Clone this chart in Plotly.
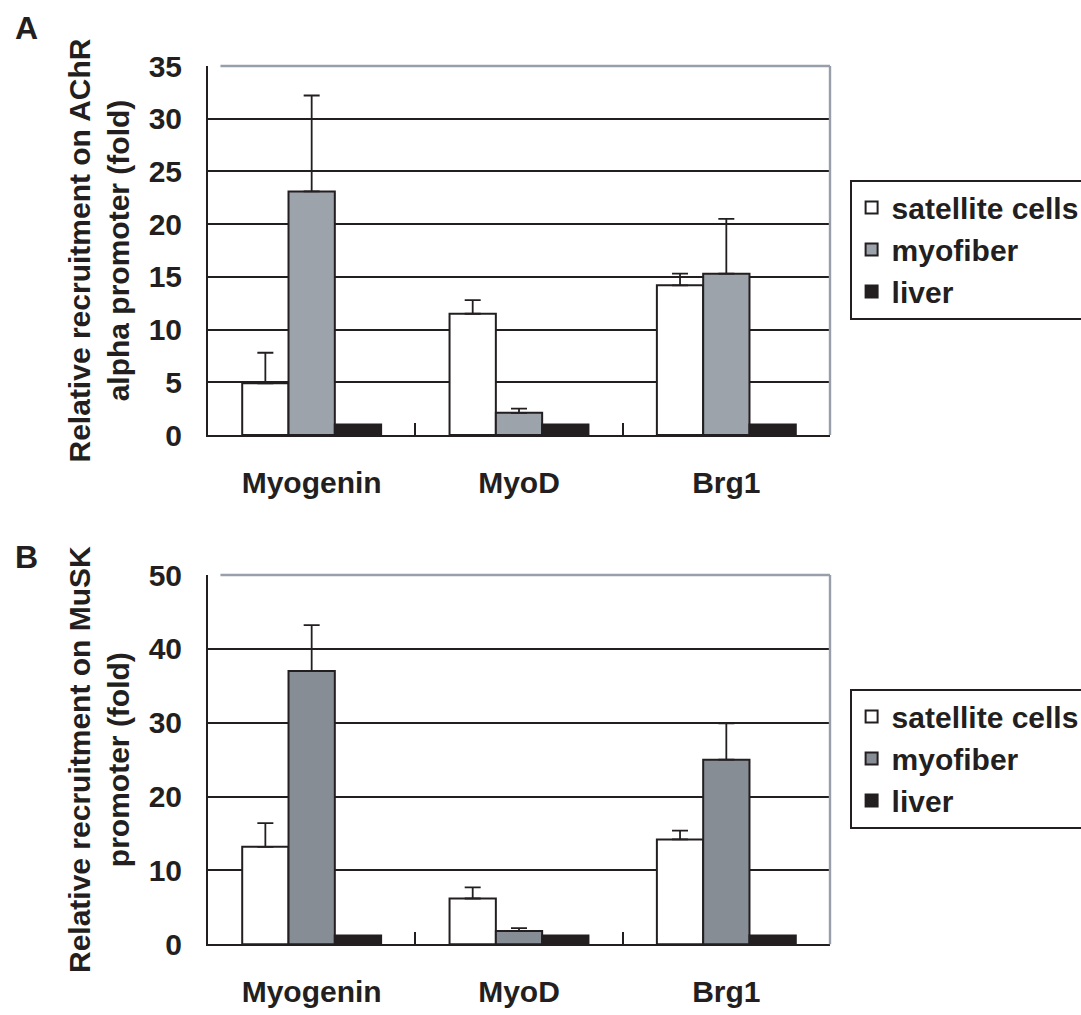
import plotly.graph_objects as go

# Transcription factor / chromatin remodeller targets
categories = ["Myogenin", "MyoD", "Brg1"]
series_names = ["satellite cells", "myofiber", "liver"]

# Panel A: recruitment on the AChR alpha promoter (fold)
achr_satellite = [4.9, 11.5, 14.2]
achr_satellite_err = [2.9, 1.3, 1.1]
achr_myofiber = [23.1, 2.1, 15.3]
achr_myofiber_err = [9.1, 0.4, 5.2]
achr_liver = [1.0, 1.0, 1.0]

# Panel B: recruitment on the MuSK promoter (fold)
musk_satellite = [13.2, 6.2, 14.2]
musk_satellite_err = [3.2, 1.5, 1.2]
musk_myofiber = [37.0, 1.8, 25.0]
musk_myofiber_err = [6.2, 0.4, 4.9]
musk_liver = [1.2, 1.2, 1.2]

W, H = 1081, 1015
FONT = "Liberation Sans, Arial, sans-serif"
INK = "#231f20"
BORDER = "#97a0aa"

fig = go.Figure()


def add_panel(xa, ya, legend, sat, sat_err, myo, myo_err, liver, myo_color):
    colors = ["#ffffff", myo_color, INK]
    vals = [sat, myo, liver]
    errs = [sat_err, myo_err, None]
    for name, c, v, e in zip(series_names, colors, vals, errs):
        err = None
        if e is not None:
            err = dict(type="data", symmetric=False, array=e,
                       arrayminus=[0] * len(e), color=INK,
                       thickness=1.8, width=8)
        fig.add_trace(go.Bar(
            x=categories, y=v, name=name, xaxis=xa, yaxis=ya,
            legend=legend, error_y=err,
            marker=dict(color=c, line=dict(color=INK, width=2)),
        ))


add_panel("x", "y", "legend", achr_satellite, achr_satellite_err,
          achr_myofiber, achr_myofiber_err, achr_liver, "#9ca3ab")
add_panel("x2", "y2", "legend2", musk_satellite, musk_satellite_err,
          musk_myofiber, musk_myofiber_err, musk_liver, "#878d95")

x_dom = [208 / W, 830 / W]
ya_dom = [1 - 435 / H, 1 - 66 / H]
yb_dom = [1 - 944.3 / H, 1 - 575 / H]

tick_font = dict(family=FONT, size=30, color=INK, weight="bold")

xcommon = dict(
    type="category", categoryorder="array", categoryarray=categories,
    showline=True, linecolor=INK, linewidth=2,
    ticks="inside", tickson="boundaries", ticklen=12, tickwidth=1.6,
    tickcolor=INK, showgrid=False, tickfont=tick_font,
    ticklabelstandoff=20, domain=x_dom,
)
ycommon = dict(
    showline=True, linecolor=INK, linewidth=2,
    ticks="inside", ticklen=12, tickwidth=1.6, tickcolor=INK,
    showgrid=True, gridcolor=INK, gridwidth=1.6, zeroline=False,
    tickfont=tick_font, ticklabelstandoff=18,
)

legend_common = dict(
    xanchor="left", yanchor="top", bgcolor="white",
    bordercolor=INK, borderwidth=1.6,
    font=dict(family=FONT, size=30, color=INK, weight="bold"),
    traceorder="normal",
)

fig.update_layout(
    width=W, height=H,
    margin=dict(l=0, r=0, t=0, b=0, autoexpand=False),
    paper_bgcolor="white", plot_bgcolor="white",
    barmode="group", bargap=0.33, bargroupgap=0,
    font=dict(family=FONT, color=INK),
    xaxis=dict(xcommon, anchor="y"),
    xaxis2=dict(xcommon, anchor="y2"),
    yaxis=dict(ycommon, domain=ya_dom, anchor="x", range=[0, 35],
               tickvals=list(range(0, 36, 5)),
               title=dict(text="Relative recruitment on AChR<br>alpha promoter (fold)",
                          font=dict(family=FONT, size=30, color=INK, weight="bold"),
                          standoff=10)),
    yaxis2=dict(ycommon, domain=yb_dom, anchor="x2", range=[0, 50],
                tickvals=list(range(0, 51, 10)),
                title=dict(text="Relative recruitment on MuSK<br>promoter (fold)",
                           font=dict(family=FONT, size=30, color=INK, weight="bold"),
                           standoff=10)),
    legend=dict(legend_common, x=850 / W, y=1 - 180 / H),
    legend2=dict(legend_common, x=850 / W, y=1 - 689 / H),
    showlegend=True,
)

# light top and right frame of each plot area
for xr, yr in (("x domain", "y domain"), ("x2 domain", "y2 domain")):
    fig.add_shape(type="line", xref=xr, yref=yr, x0=0.02, x1=1, y0=1, y1=1,
                  line=dict(color=BORDER, width=2.4), layer="above")
    fig.add_shape(type="line", xref=xr, yref=yr, x0=1, x1=1, y0=0, y1=1,
                  line=dict(color=BORDER, width=2.4), layer="above")

# panel letters
for letter, yy in (("A", 28), ("B", 557)):
    fig.add_annotation(text=letter, xref="paper", yref="paper",
                       x=26 / W, y=1 - yy / H, showarrow=False,
                       xanchor="center", yanchor="middle",
                       font=dict(family=FONT, size=32, color=INK, weight="bold"))

fig.write_html("out.html")
